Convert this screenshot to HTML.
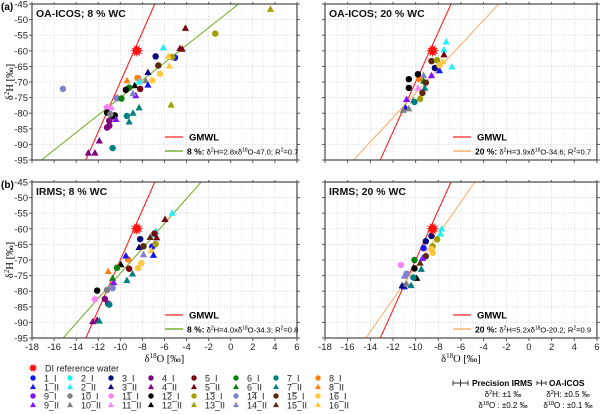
<!DOCTYPE html>
<html><head><meta charset="utf-8"><style>
html,body{margin:0;background:#fff;width:600px;height:414px;overflow:hidden}
svg{display:block;font-family:"Liberation Sans",Arial,sans-serif}
</style></head><body>
<svg id="chart" width="600" height="414" viewBox="0 0 600 414" xmlns="http://www.w3.org/2000/svg"></svg>
<script>
// Panel (a) OA-ICOS 8%
const aIds=["14_I","13_II","13_I","5_II","5_II","5_II","2_II","3_I","1_I","13_I","16_II","16_II","15_I","16_I","3_II","14_I","8_I","16_I","10_II","2_II","8_II","12_II","5_I","1_II","6_I","12_I","9_II","14_II","8_II","14_I","6_I","7_II","7_II","7_II","7_I","11_I","11_II","12_I","12_I","12_I","10_I","9_II","4_I","4_I","4_I","7_I","4_II","4_II","4_II","13_II"];
const aX=[-15.2,3.6,-1.4,-4.1,-4.6,-4.4,-6.1,-6.8,-5.05,-5.3,-5.65,-5.55,-6.56,-6.4,-7.5,-8.37,-8.45,-7.1,-7.7,-8.3,-9.4,-8.7,-8.2,-7.5,-9.2,-9.5,-8.6,-8.85,-10.3,-10.3,-9.9,-8.3,-8.85,-9.2,-9.4,-11.2,-10.8,-11.2,-10.5,-10.7,-10.9,-10.4,-11.0,-11.2,-11.0,-10.7,-11.9,-12.9,-12.3,-5.4];
const aY=[-72.2,-46.7,-54.5,-52.8,-59.3,-59.5,-59,-61.8,-62.2,-62,-61.8,-64.9,-64.7,-67.4,-67,-68.8,-68.7,-69.5,-69.6,-70,-69.6,-71.2,-72.2,-71,-71.8,-72.5,-74.4,-73.7,-74.9,-75.2,-75.3,-78.3,-80,-82.8,-80.9,-78.1,-78.3,-79.8,-80.7,-81,-80.3,-82,-82.4,-84.6,-84,-91.2,-88.9,-92.8,-92.8,-77.4];
// Panel (a-right) OA-ICOS 20%
const bIds=["2_II","2_II","2_II","5_II","16_II","15_I","13_I","1_II","3_I","14_II","12_I","12_I","9_II","6_II","15_I","8_I","11_II","10_II","13_I","7_I","9_II","1_II","10_II","10_II","7_II","16_I","15_I","12_I"];
const bX=[-7.3,-7.5,-6.8,-7.5,-7.6,-8.6,-8.1,-7.9,-8.3,-9.3,-10.6,-10.6,-8.6,-9.3,-9.1,-9.7,-9.8,-10.2,-9.6,-10.1,-10.8,-10.9,-11.1,-10.6,-9.2,-7.9,-9.4,-9.8];
const bY=[-57.2,-59.7,-65.2,-61.3,-63.5,-63.3,-63,-66.4,-65.5,-67.9,-69.1,-71.9,-68,-69.7,-70.2,-69,-72,-76,-75.4,-76.4,-75.6,-78.3,-79.1,-78.6,-72,-64.6,-73.5,-67.5];
// Panel (b-left) IRMS 8%
const cIds=["2_II","5_II","2_II","2_II","5_II","5_I","3_I","15_II","1_I","13_I","16_II","3_II","15_I","14_II","8_I","1_II","16_I","16_I","5_I","12_II","8_II","6_II","7_II","7_II","9_II","12_I","11_I","10_I","4_I","4_I","7_I","4_II","4_II","7_II","14_I","6_I","1_II"];
const cX=[-5.3,-5.95,-6.8,-7.1,-6.7,-6.9,-8.2,-7.3,-7.1,-6.8,-7.2,-8.3,-7.9,-7.9,-9.3,-9.5,-8.1,-8.4,-9.2,-9.95,-11.1,-10.7,-8.9,-9.4,-10.6,-12.1,-12.3,-11.2,-11.1,-11.4,-11.0,-12.5,-12.1,-11.9,-10.7,-10.3,-7.0];
const cY=[-55,-57,-60.8,-61.9,-62.9,-61.5,-63.3,-62.8,-65.7,-64.9,-67,-66,-65.6,-68.3,-69.8,-68.7,-71,-72.6,-72.8,-71.5,-73.7,-75.9,-74.5,-76.6,-77.3,-79.8,-82.6,-79.6,-84,-82.5,-84.3,-89.8,-89.3,-89.6,-79,-72.5,-68.5];
// Panel (b-right) IRMS 20%
const dIds=["2_II","2_II","3_I","3_I","13_I","13_I","16_I","16_I","1_I","15_I","15_II","11_I","12_I","12_II","7_II","7_I","14_I","14_II","1_II","3_II","10_II","7_II","6_I","9_II"];
const dX=[-7.7,-7.8,-8.6,-9.1,-8.1,-8.5,-8.6,-8.5,-9.3,-9.1,-9.6,-11.3,-10.1,-9.9,-9.5,-10.2,-10.8,-11.0,-11.0,-11.2,-10.8,-10.4,-10.1,-9.4];
const dY=[-60,-61.7,-62.3,-64,-63.4,-65.6,-66.6,-67.7,-66.2,-68.8,-71,-71.6,-72.7,-75.9,-73,-75.6,-74.4,-75.2,-78.6,-78.3,-77.7,-78.2,-70,-69.5];
const slopes=[2.8,3.9,4.0,5.2];
const intercepts=[-47.0,-34.6,-34.3,-20.2];
const r2=[0.7,0.7,0.8,0.9];
const xTicks=[-18,-16,-14,-12,-10,-8,-6,-4,-2,0,2,4,6];
const yTicks=[-45,-50,-55,-60,-65,-70,-75,-80,-85,-90,-95];
const diX=-8.5, diY=-60;
const legendIds=["1_I","2_I","3_I","4_I","5_I","6_I","7_I","8_I","1_II","2_II","3_II","4_II","5_II","6_II","7_II","8_II","9_I","10_I","11_I","12_I","13_I","14_I","15_I","16_I","9_II","10_II","11_II","12_II","13_II","14_II","15_II","16_II"];
const colors={1:"#1414ff",2:"#22f0f8",3:"#0a0a80",4:"#800080",5:"#7a0010",6:"#088008",7:"#008080",8:"#ff8010",9:"#8010ff",10:"#808080",11:"#ff80ff",12:"#000000",13:"#a0a000",14:"#8080d0",15:"#5a2a0a",16:"#ffc840"};

const NS="http://www.w3.org/2000/svg";
const svg=document.getElementById('chart');
function mk(tag,attrs,parent){const e=document.createElementNS(NS,tag);for(const k in attrs)e.setAttribute(k,attrs[k]);(parent||svg).appendChild(e);return e;}
function txt(s,attrs,parent){const e=mk('text',attrs,parent);e.textContent=s;return e;}

const panels=[
 {x0:32,sx:11.04,y0:4,title:"OA-ICOS; 8 % WC",ids:aIds,xs:aX,ys:aY,lab:"8 %:",col:"#7ab030",yl:true,xl:false,tag:"(a)"},
 {x0:325,sx:11.33,y0:4,title:"OA-ICOS; 20 % WC",ids:bIds,xs:bX,ys:bY,lab:"20 %:",col:"#ffb070",yl:false,xl:false},
 {x0:32,sx:11.04,y0:182,title:"IRMS; 8 % WC",ids:cIds,xs:cX,ys:cY,lab:"8 %:",col:"#7ab030",yl:true,xl:true,tag:"(b)"},
 {x0:325,sx:11.33,y0:182,title:"IRMS; 20 % WC",ids:dIds,xs:dX,ys:dY,lab:"20 %:",col:"#ffb070",yl:false,xl:true}
];
const SY=3.12;

function star(g,cx,cy,r,name){
  let pts=[];for(let i=0;i<24;i++){const rr=i%2?r*0.55:r;const a=Math.PI*i/12;pts.push((cx+rr*Math.sin(a)).toFixed(1)+","+(cy-rr*Math.cos(a)).toFixed(1));}
  const p=mk('polygon',{points:pts.join(' '),fill:"#ff1010"},g);
  
  
}
function marker(g,id,cx,cy,s){
  const n=parseInt(id);const tri=id.endsWith("_II");const c=colors[n];
  let e;
  if(tri){e=mk('polygon',{points:`${cx},${cy-s*1.1} ${cx-s},${cy+s*0.7} ${cx+s},${cy+s*0.7}`,fill:c},g);}
  else{e=mk('circle',{cx:cx,cy:cy,r:s*0.9,fill:c},g);}
  return e;
}

panels.forEach((P,pi)=>{
  const W=24*P.sx,H=50*SY;
  const X=v=>P.x0+(v+18)*P.sx, Y=v=>P.y0+(-45-v)*SY;
  const g=mk('g',{});
  
  
  const cp=mk('clipPath',{id:'cp'+pi},g);mk('rect',{x:P.x0,y:P.y0,width:W,height:H},cp);
  xTicks.forEach(t=>{mk('line',{x1:X(t),x2:X(t),y1:P.y0,y2:P.y0+H,stroke:"#d0d0d0","stroke-width":0.6,"stroke-dasharray":"1.5,1.5"},g);});
  for(let t=-17;t<6;t+=2){mk('line',{x1:X(t),x2:X(t),y1:P.y0,y2:P.y0+H,stroke:"#e6e6e6","stroke-width":0.5,"stroke-dasharray":"1.5,1.5"},g);}
  yTicks.forEach(t=>{mk('line',{x1:P.x0,x2:P.x0+W,y1:Y(t),y2:Y(t),stroke:"#d0d0d0","stroke-width":0.6,"stroke-dasharray":"1.5,1.5"},g);});
  xTicks.forEach(t=>{mk('line',{x1:X(t),x2:X(t),y1:P.y0+H,y2:P.y0+H+3,stroke:"#555"},g);mk('line',{x1:X(t),x2:X(t),y1:P.y0,y2:P.y0-2,stroke:"#555"},g);
    if(P.xl){const l=txt(String(t),{x:X(t),y:P.y0+H+12,"font-size":9.5,"text-anchor":"middle",fill:"#222"},g);}});
  yTicks.forEach(t=>{mk('line',{x1:P.x0-3,x2:P.x0,y1:Y(t),y2:Y(t),stroke:"#555"},g);mk('line',{x1:P.x0+W,x2:P.x0+W+3,y1:Y(t),y2:Y(t),stroke:"#555"},g);
    if(P.yl){const l=txt(String(t),{x:P.x0-4,y:Y(t)+3.5,"font-size":9.5,"text-anchor":"end",fill:"#222"},g);}});
  const lg=mk('g',{"clip-path":`url(#cp${pi})`},g);
  const gm=mk('line',{x1:X(-18),y1:Y(8*-18+10),x2:X(6),y2:Y(8*6+10),stroke:"#ff2020","stroke-width":1.1},lg);
  
  const fl=mk('line',{x1:X(-18),y1:Y(slopes[pi]*-18+intercepts[pi]),x2:X(6),y2:Y(slopes[pi]*6+intercepts[pi]),stroke:P.col,"stroke-width":1.1},lg);
  
  const pg=mk('g',{"clip-path":`url(#cp${pi})`},g);
  P.ids.forEach((id,i)=>{const m=marker(pg,id,X(P.xs[i]),Y(P.ys[i]),3.6);
    
    });
  star(pg,X(diX),Y(diY),6.5,'di-reference-point');
  mk('rect',{x:P.x0,y:P.y0,width:W,height:H,fill:"none",stroke:"#555","stroke-width":1.3},g);
  const tt=txt(P.title,{x:P.x0+4,y:P.y0+13,"font-size":10.5,"font-weight":"bold",fill:"#111"},g);
  
  if(P.tag){const t2=txt(P.tag,{x:1,y:P.y0+6,"font-size":10,"font-weight":"bold"},g);}
  if(P.yl){const yt=txt("",{x:0,y:0,"font-size":10.5,"text-anchor":"middle",transform:`translate(13,${P.y0+H/2}) rotate(-90)`,"font-family":"Liberation Serif,serif"},g);
    yt.innerHTML='δ<tspan dy="-4" font-size="7">2</tspan><tspan dy="4">H [‰]</tspan>';
    }
  if(P.xl){const xt=txt("",{x:P.x0+W/2,y:P.y0+H+24,"font-size":10.5,"text-anchor":"middle","font-family":"Liberation Serif,serif"},g);
    xt.innerHTML='δ<tspan dy="-4" font-size="7">18</tspan><tspan dy="4">O [‰]</tspan>';
    }
  const lx=P.x0+(pi%2?128:133),ly=P.y0+133;
  const lg2=mk('g',{},g);
  mk('line',{x1:lx,x2:lx+18,y1:ly,y2:ly,stroke:"#ff2020","stroke-width":1.3},lg2);
  txt("GMWL",{x:lx+24,y:ly+3.5,"font-size":9.5,"font-weight":"bold"},lg2);
  mk('line',{x1:lx,x2:lx+18,y1:ly+14,y2:ly+14,stroke:P.col,"stroke-width":1.5},lg2);
  const ft=txt("",{x:lx+22,y:ly+17.5,"font-size":7.6},lg2);
  ft.innerHTML=`<tspan font-weight="bold" font-size="8.5">${P.lab}</tspan> δ<tspan dy="-3" font-size="5">2</tspan><tspan dy="3">H=${slopes[pi].toFixed(1)}xδ</tspan><tspan dy="-3" font-size="5">18</tspan><tspan dy="3">O${intercepts[pi].toFixed(1)}; R</tspan><tspan dy="-3" font-size="5">2</tspan><tspan dy="3">=${r2[pi]}</tspan>`;
});

const bl=mk('g',{});
star(bl,33,368,4.5,'legend-di-star');
txt("DI reference water",{x:45,y:371.5,"font-size":9,fill:"#222"},bl);
const colX=[33,70,111,151,194,236,276,318];
legendIds.forEach((id,i)=>{
  const r=Math.floor(i/8),c=i%8;const y=378+r*9;
  const m=marker(bl,id,colX[c],y,3);
  
  
  const t=txt(id,{x:colX[c]+11,y:y+3.3,"font-size":9,fill:"#222"},bl);
  
  
});
const pl=mk('g',{});
function ebar(x1,x2,y,h){mk('line',{x1:x1,x2:x2,y1:y,y2:y,stroke:"#333"},pl);mk('line',{x1:x1,x2:x1,y1:y-h,y2:y+h,stroke:"#333"},pl);mk('line',{x1:x2,x2:x2,y1:y-h,y2:y+h,stroke:"#333"},pl);const m=(x1+x2)/2;mk('line',{x1:m,x2:m,y1:y-h-1,y2:y+h+1,stroke:"#333"},pl);}
ebar(453,468,383,2.5);
txt("Precision IRMS",{x:472,y:386,"font-size":8.3,"font-weight":"bold"},pl);
ebar(537,546,383,2);
txt("OA-ICOS",{x:549,y:386,"font-size":8.3,"font-weight":"bold"},pl);
const p1=txt("",{x:503,y:397,"font-size":8,"text-anchor":"middle"},pl);p1.innerHTML='δ<tspan dy="-3" font-size="5.5">2</tspan><tspan dy="3">H: ±1 ‰</tspan>';
const p2=txt("",{x:503,y:408,"font-size":8,"text-anchor":"middle"},pl);p2.innerHTML='δ<tspan dy="-3" font-size="5.5">18</tspan><tspan dy="3">O : ±0.2 ‰</tspan>';
const p3=txt("",{x:568,y:397,"font-size":8,"text-anchor":"middle"},pl);p3.innerHTML='δ<tspan dy="-3" font-size="5.5">2</tspan><tspan dy="3">H: ±0.5 ‰</tspan>';
const p4=txt("",{x:568,y:408,"font-size":8,"text-anchor":"middle"},pl);p4.innerHTML='δ<tspan dy="-3" font-size="5.5">18</tspan><tspan dy="3">O : ±0.1 ‰</tspan>';
</script>
</body></html>
